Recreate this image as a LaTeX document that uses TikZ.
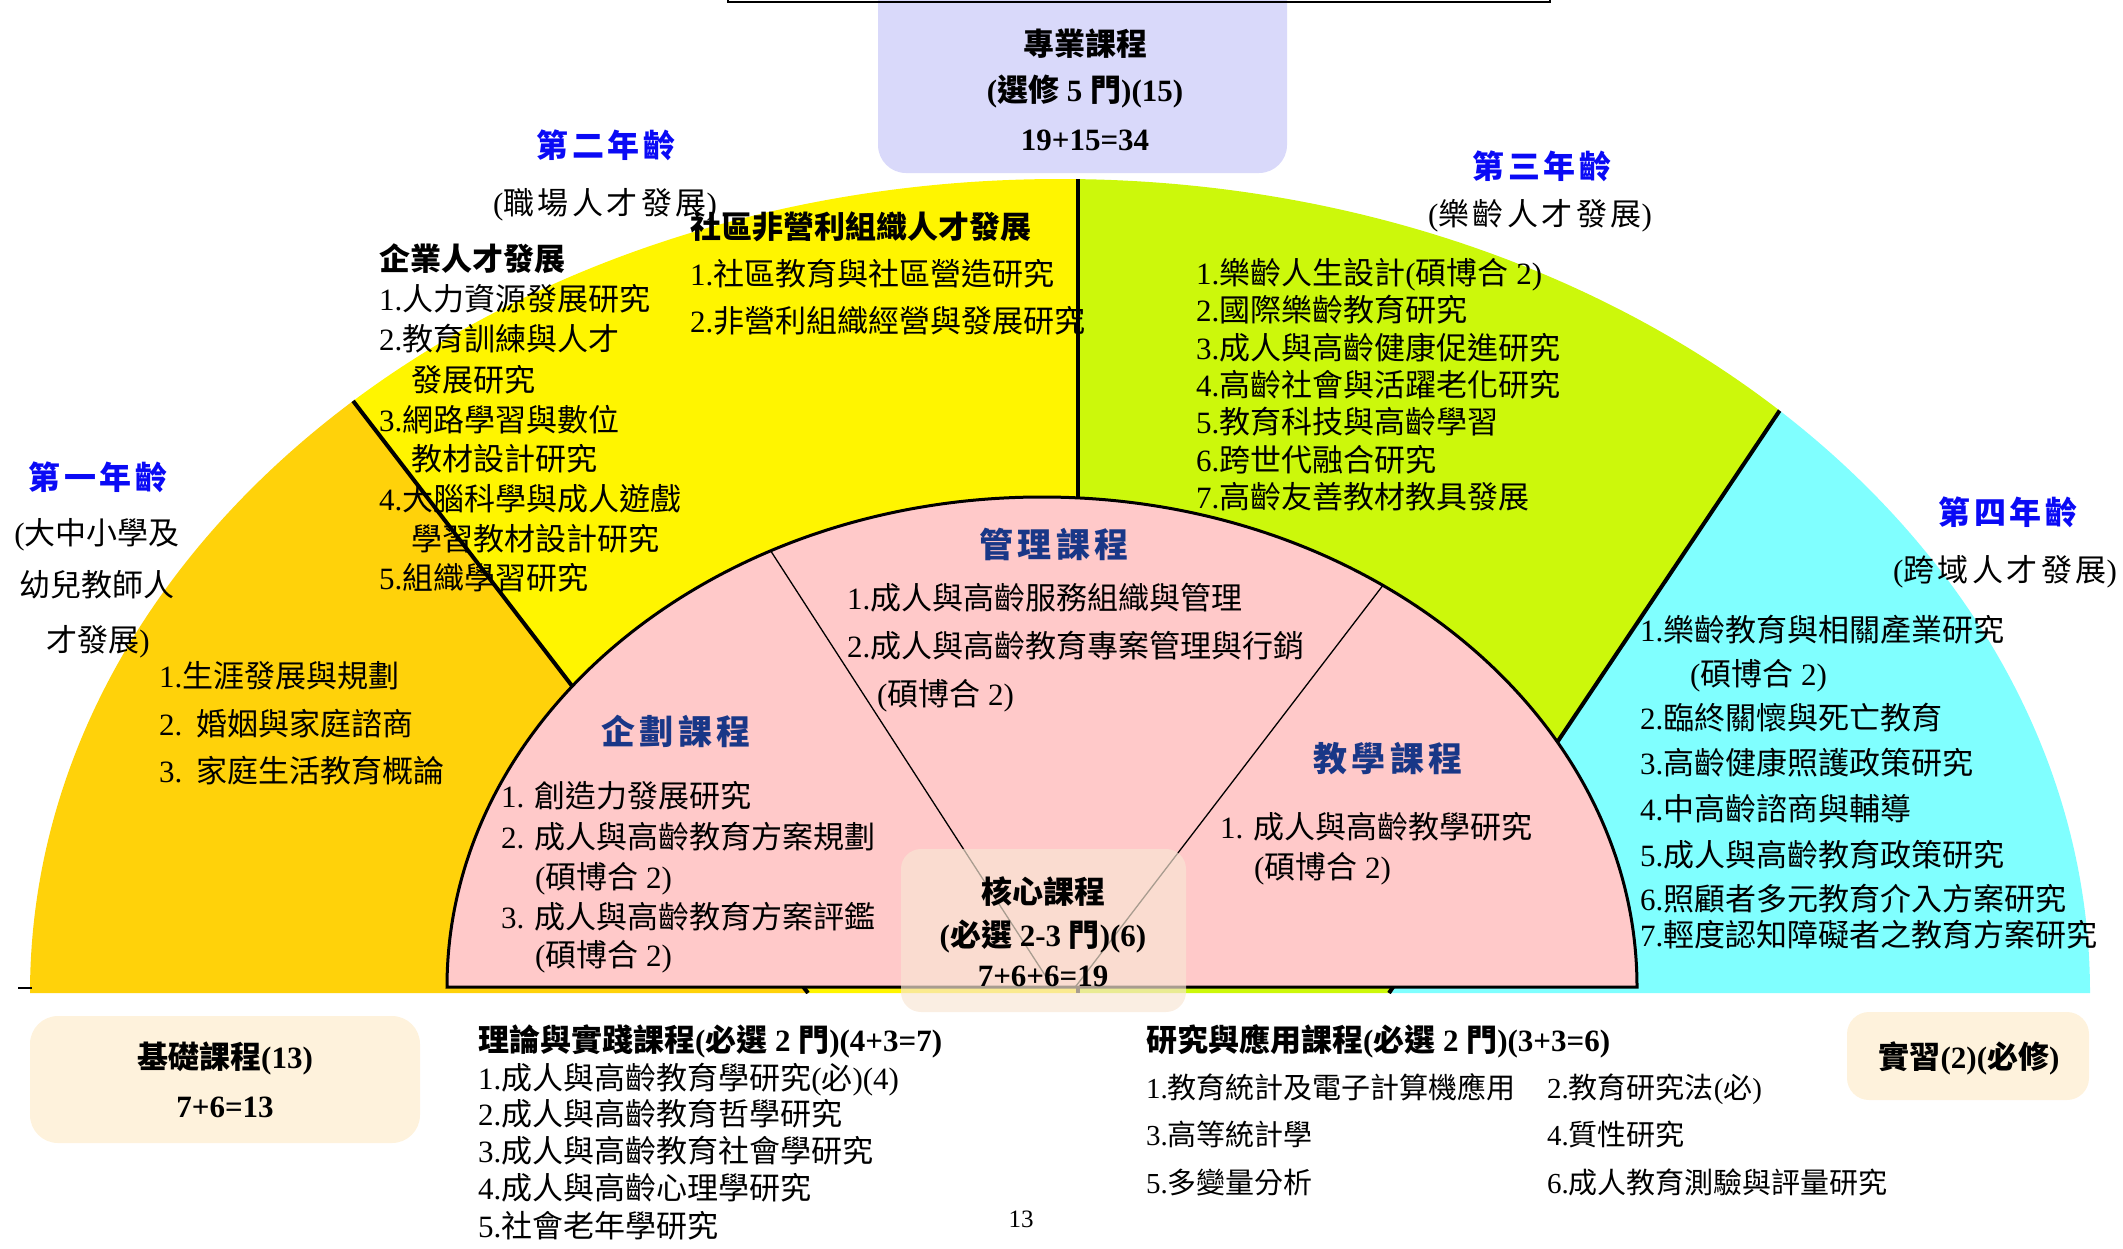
\documentclass[tikz,border=0pt]{standalone}
\usepackage{fontspec}
\setmainfont{Liberation Serif}
\newfontfamily\cjkA{Noto Sans CJK TC}
\newfontfamily\cjkB{Noto Sans CJK TC}[LetterSpace=12]
\newfontfamily\cjkC{Noto Sans CJK TC}[LetterSpace=11]
\let\cjkcur\cjkA
\def\cjkfont{\cjkcur}
\chardef\cjkcls=250
\newcount\cjkcnt
\cjkcnt="2E80
\loop
  \XeTeXcharclass\cjkcnt=\cjkcls
  \advance\cjkcnt by 1
\ifnum\cjkcnt<"A000 \repeat
\cjkcnt="FF00
\loop
  \XeTeXcharclass\cjkcnt=\cjkcls
  \advance\cjkcnt by 1
\ifnum\cjkcnt<"FFF0 \repeat
\XeTeXinterchartoks 0 \cjkcls = {\begingroup\cjkfont}
\XeTeXinterchartoks 4095 \cjkcls = {\begingroup\cjkfont}
\XeTeXinterchartoks \cjkcls 0 = {\endgroup}
\XeTeXinterchartoks \cjkcls 4095 = {\endgroup}
\XeTeXinterchartokenstate=1

\definecolor{cO}{RGB}{255,210,10}
\definecolor{cY}{RGB}{255,245,0}
\definecolor{cG}{RGB}{204,248,11}
\definecolor{cC}{RGB}{128,255,255}
\definecolor{cP}{RGB}{255,201,201}
\definecolor{cLav}{RGB}{217,217,250}
\definecolor{cCream}{RGB}{254,242,220}
\definecolor{cCore}{RGB}{248,230,212}
\definecolor{yrblue}{RGB}{10,10,245}
\definecolor{navy}{RGB}{25,55,135}

\tikzset{
  txt/.style={inner sep=0pt, outer sep=0pt, anchor=base west, font=\fontsize{31}{31}\selectfont},
  txtc/.style={txt, anchor=base},
  hdr/.style={txt, font=\fontsize{31}{31}\selectfont\bfseries},
  hdrc/.style={hdr, anchor=base},
  smt/.style={txt, font=\fontsize{29}{29}\selectfont},
  yr/.style={inner sep=0pt, anchor=base, text=yrblue, font=\fontsize{32}{32}\selectfont\bfseries\let\cjkcur\cjkB},
  subt/.style={inner sep=0pt, anchor=base, font=\fontsize{31}{31}\selectfont\let\cjkcur\cjkC},
  ctitle/.style={inner sep=0pt, anchor=base, text=navy, font=\fontsize{34}{34}\selectfont\bfseries\let\cjkcur\cjkB},
  divider/.style={line width=4pt, black},
  thinline/.style={line width=1.3pt, black},
  roundbox/.style={rounded corners=28pt},
}

\begin{document}
\begin{tikzpicture}[x=1pt,y=-1pt]
\useasboundingbox (0,0) rectangle (2123,1248);

% ---- sectors ----
\begin{scope}
  \clip (0,0) rectangle (2123,993);
  \clip (1060,993) ellipse [x radius=1030pt, y radius=814pt];
  \fill[cO] (0,0) -- (45,0) -- (808,993) -- (0,993) -- cycle;
  \fill[cY] (45,0) -- (1078,0) -- (1078,993) -- (808,993) -- cycle;
  \fill[cG] (1078,0) -- (2055,0) -- (1389,993) -- (1078,993) -- cycle;
  \fill[cC] (2055,0) -- (2123,0) -- (2123,993) -- (1389,993) -- cycle;
  \draw[divider] (45,0) -- (808,993);
  \draw[divider] (1078,0) -- (1078,993);
  \draw[divider] (2055,0) -- (1389,993);
\end{scope}
\draw[line width=1.5pt] (18,988) -- (32,988);

% ---- pink half ----
\fill[cP] (447,987) arc[start angle=180, end angle=0, x radius=595pt, y radius=490pt] -- cycle;
\begin{scope}
  \clip (447,987) arc[start angle=180, end angle=0, x radius=595pt, y radius=490pt] -- cycle;
  \draw[thinline] (743,508) -- (1063,1003);
  \draw[thinline] (1410,550) -- (1063,1003);
\end{scope}
\draw[line width=3pt] (447,987) arc[start angle=180, end angle=0, x radius=595pt, y radius=490pt] -- cycle;

% ---- top box ----
\fill[cLav, roundbox] (878,-40) rectangle (1287,173);
\draw[line width=2.5pt] (728,-5) -- (728,2) -- (1550,2) -- (1550,-5);
\node[hdrc] (pro1) at (1085,55) {專業課程};
\node[hdrc] (pro2) at (1085,101) {(選修 5 門)(15)};
\node[hdrc] (pro3) at (1085,150) {19+15=34};

% ---- year titles ----
\node[yr] (y1) at (98,489) {第一年齡};
\node[yr] (y2) at (606,157) {第二年齡};
\node[yr] (y3) at (1542,178) {第三年齡};
\node[yr] (y4) at (2008,524) {第四年齡};
\node[subt] (s2) at (605,214) {(職場人才發展)};
\node[subt] (s3) at (1540,225) {(樂齡人才發展)};
\node[subt] (s4) at (2005,581) {(跨域人才發展)};
\node[txtc] (s1a) at (97,544) {(大中小學及};
\node[txtc] (s1b) at (97,596) {幼兒教師人};
\node[txtc] (s1c) at (98,651) {才發展)};

% ---- orange items ----
\node[txt] (o1) at (159,687) {1.生涯發展與規劃};
\node[txt] (o2) at (159,735) {2.\hspace{14pt}婚姻與家庭諮商};
\node[txt] (o3) at (159,782) {3.\hspace{14pt}家庭生活教育概論};

% ---- yellow: enterprise ----
\node[hdr] (eh) at (379,270) {企業人才發展};
\node[txt] (e1) at (379,310) {1.人力資源發展研究};
\node[txt] (e2) at (379,350) {2.教育訓練與人才};
\node[txt] (e2b) at (411,391) {發展研究};
\node[txt] (e3) at (379,431) {3.網路學習與數位};
\node[txt] (e3b) at (411,470) {教材設計研究};
\node[txt] (e4) at (379,510) {4.大腦科學與成人遊戲};
\node[txt] (e4b) at (411,550) {學習教材設計研究};
\node[txt] (e5) at (379,589) {5.組織學習研究};

% ---- yellow: community ----
\node[hdr] (ch) at (690,238) {社區非營利組織人才發展};
\node[txt] (c1) at (690,285) {1.社區教育與社區營造研究};
\node[txt] (c2) at (690,332) {2.非營利組織經營與發展研究};

% ---- green ----
\node[txt] (g1) at (1196,284) {1.樂齡人生設計(碩博合 2)};
\node[txt] (g2) at (1196,321) {2.國際樂齡教育研究};
\node[txt] (g3) at (1196,359) {3.成人與高齡健康促進研究};
\node[txt] (g4) at (1196,396) {4.高齡社會與活躍老化研究};
\node[txt] (g5) at (1196,433) {5.教育科技與高齡學習};
\node[txt] (g6) at (1196,471) {6.跨世代融合研究};
\node[txt] (g7) at (1196,508) {7.高齡友善教材教具發展};

% ---- cyan ----
\node[txt] (k1) at (1640,641) {1.樂齡教育與相關產業研究};
\node[txt] (k1b) at (1690,685) {(碩博合 2)};
\node[txt] (k2) at (1640,729) {2.臨終關懷與死亡教育};
\node[txt] (k3) at (1640,774) {3.高齡健康照護政策研究};
\node[txt] (k4) at (1640,820) {4.中高齡諮商與輔導};
\node[txt] (k5) at (1640,866) {5.成人與高齡教育政策研究};
\node[txt] (k6) at (1640,910) {6.照顧者多元教育介入方案研究};
\node[txt] (k7) at (1640,946) {7.輕度認知障礙者之教育方案研究};

% ---- pink: courses ----
\node[ctitle] (mt) at (1054,557) {管理課程};
\node[txt] (m1) at (847,609) {1.成人與高齡服務組織與管理};
\node[txt] (m2) at (847,657) {2.成人與高齡教育專案管理與行銷};
\node[txt] (m2b) at (877,705) {(碩博合 2)};

\node[ctitle] (pt) at (676,744) {企劃課程};
\node[txt] (p1) at (501,807) {1. 創造力發展研究};
\node[txt] (p2) at (501,848) {2. 成人與高齡教育方案規劃};
\node[txt] (p2b) at (535,888) {(碩博合 2)};
\node[txt] (p3) at (501,928) {3. 成人與高齡教育方案評鑑};
\node[txt] (p3b) at (535,966) {(碩博合 2)};

\node[ctitle] (tt) at (1388,771) {教學課程};
\node[txt] (t1) at (1220,838) {1. 成人與高齡教學研究};
\node[txt] (t1b) at (1254,878) {(碩博合 2)};

% ---- core box ----
\fill[cCore, fill opacity=0.68, rounded corners=20pt] (901,849) rectangle (1186,1012);
\node[hdrc] (core1) at (1043,903) {核心課程};
\node[hdrc] (core2) at (1043,946) {(必選 2-3 門)(6)};
\node[hdrc] (core3) at (1043,986) {7+6+6=19};

% ---- bottom boxes ----
\fill[cCream, roundbox] (30,1016) rectangle (420,1143);
\node[hdrc] (b1) at (225,1068) {基礎課程(13)};
\node[hdrc] (b2) at (225,1117) {7+6=13};
\fill[cCream, rounded corners=22pt] (1847,1012) rectangle (2089,1100);
\node[hdrc] (intern) at (1969,1068) {實習(2)(必修)};

% ---- theory list ----
\node[hdr] (lh) at (478,1051) {理論與實踐課程(必選 2 門)(4+3=7)};
\node[txt] (l1) at (478,1089) {1.成人與高齡教育學研究(必)(4)};
\node[txt] (l2) at (478,1125) {2.成人與高齡教育哲學研究};
\node[txt] (l3) at (478,1162) {3.成人與高齡教育社會學研究};
\node[txt] (l4) at (478,1199) {4.成人與高齡心理學研究};
\node[txt] (l5) at (478,1237) {5.社會老年學研究};

% ---- research list ----
\node[hdr] (rh) at (1146,1051) {研究與應用課程(必選 2 門)(3+3=6)};
\node[smt] (r1) at (1146,1098) {1.教育統計及電子計算機應用};
\node[smt] (r2) at (1547,1098) {2.教育研究法(必)};
\node[smt] (r3) at (1146,1145) {3.高等統計學};
\node[smt] (r4) at (1547,1145) {4.質性研究};
\node[smt] (r5) at (1146,1193) {5.多變量分析};
\node[smt] (r6) at (1547,1193) {6.成人教育測驗與評量研究};

\node[inner sep=0pt, anchor=base, font=\fontsize{25}{25}\selectfont] (pg) at (1021,1227) {13};
\end{tikzpicture}
\end{document}
